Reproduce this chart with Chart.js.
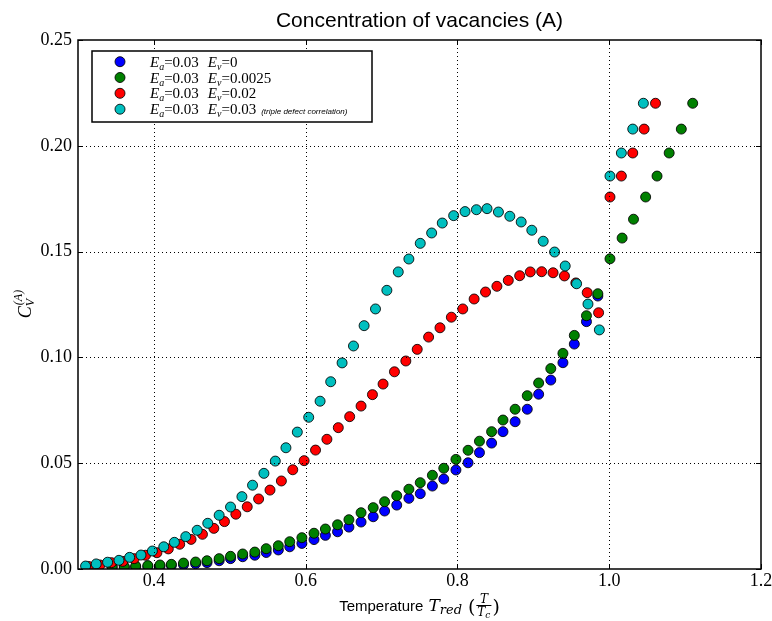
<!DOCTYPE html>
<html>
<head>
<meta charset="utf-8">
<title>Concentration of vacancies (A)</title>
<script src="https://cdn.jsdelivr.net/npm/chart.js@4.4.0/dist/chart.umd.min.js"></script>
<style>
  html, body { margin: 0; padding: 0; background: #fff; }
  #wrap { width: 772px; height: 621px; }
</style>
</head>
<body>
<div id="wrap"><canvas id="c" width="772" height="621"></canvas></div>
<script>
// Reduced temperature T/Tc of each sample point
const tempBlueGreen = [0.345, 0.361, 0.376, 0.392, 0.408, 0.423, 0.439, 0.455, 0.470, 0.486,
  0.501, 0.517, 0.533, 0.548, 0.564, 0.579, 0.595, 0.611, 0.626, 0.642,
  0.657, 0.673, 0.689, 0.704, 0.720, 0.736, 0.751, 0.767, 0.782, 0.798,
  0.814, 0.829, 0.845, 0.860, 0.876, 0.892, 0.907, 0.923, 0.939, 0.954,
  0.970, 0.985, 1.001, 1.017, 1.032, 1.048, 1.063, 1.079, 1.095, 1.110];
const tempRed = [0.314, 0.329, 0.344, 0.359, 0.374, 0.389, 0.404, 0.419, 0.434, 0.449,
  0.464, 0.479, 0.493, 0.508, 0.523, 0.538, 0.553, 0.568, 0.583, 0.598,
  0.613, 0.628, 0.643, 0.658, 0.673, 0.688, 0.702, 0.717, 0.732, 0.747,
  0.762, 0.777, 0.792, 0.807, 0.822, 0.837, 0.852, 0.867, 0.882, 0.896,
  0.911, 0.926, 0.941, 0.956, 0.971, 0.986, 1.001, 1.016, 1.031, 1.046, 1.061];
const tempCyan = [0.310, 0.324, 0.339, 0.354, 0.368, 0.383, 0.398, 0.413, 0.427, 0.442,
  0.457, 0.471, 0.486, 0.501, 0.516, 0.530, 0.545, 0.560, 0.574, 0.589,
  0.604, 0.619, 0.633, 0.648, 0.663, 0.677, 0.692, 0.707, 0.722, 0.736,
  0.751, 0.766, 0.780, 0.795, 0.810, 0.825, 0.839, 0.854, 0.869, 0.884,
  0.898, 0.913, 0.928, 0.942, 0.957, 0.972, 0.987, 1.001, 1.016, 1.031, 1.045];

// Vacancy concentration C_V^(A) for each parameter set
const concBlue = [0.0007, 0.0008, 0.0009, 0.0011, 0.0013, 0.0017, 0.0020, 0.0025, 0.0030, 0.0039,
  0.0049, 0.0058, 0.0065, 0.0078, 0.0090, 0.0105, 0.0121, 0.0139, 0.0159, 0.0176,
  0.0198, 0.0222, 0.0247, 0.0274, 0.0302, 0.0334, 0.0356, 0.0392, 0.0425, 0.0468,
  0.0502, 0.0550, 0.0595, 0.0649, 0.0696, 0.0755, 0.0826, 0.0893, 0.0975, 0.1063,
  0.1169, 0.1290];
const concGreen = [0.0011, 0.0011, 0.0014, 0.0016, 0.0019, 0.0022, 0.0028, 0.0033, 0.0039, 0.0049,
  0.0060, 0.0071, 0.0080, 0.0096, 0.0110, 0.0129, 0.0148, 0.0169, 0.0189, 0.0209,
  0.0233, 0.0266, 0.0290, 0.0318, 0.0346, 0.0377, 0.0408, 0.0443, 0.0476, 0.0518,
  0.0561, 0.0604, 0.0649, 0.0704, 0.0755, 0.0819, 0.0879, 0.0947, 0.1019, 0.1104,
  0.1197, 0.1301, 0.1466, 0.1564, 0.1653, 0.1758, 0.1857, 0.1966, 0.2079, 0.2201];
const concRed = [0.0012, 0.0019, 0.0030, 0.0036, 0.0049, 0.0065, 0.0077, 0.0095, 0.0117, 0.0140,
  0.0164, 0.0192, 0.0224, 0.0259, 0.0294, 0.0331, 0.0373, 0.0416, 0.0469, 0.0512,
  0.0562, 0.0613, 0.0668, 0.0720, 0.0770, 0.0824, 0.0874, 0.0932, 0.0983, 0.1038,
  0.1096, 0.1140, 0.1190, 0.1229, 0.1276, 0.1309, 0.1336, 0.1364, 0.1386, 0.1404,
  0.1405, 0.1400, 0.1385, 0.1352, 0.1306, 0.1211, 0.1758, 0.1857, 0.1966, 0.2079, 0.2201];
const concCyan = [0.0014, 0.0024, 0.0032, 0.0041, 0.0055, 0.0066, 0.0085, 0.0105, 0.0126, 0.0153,
  0.0183, 0.0216, 0.0254, 0.0293, 0.0342, 0.0396, 0.0452, 0.0510, 0.0573, 0.0647,
  0.0717, 0.0793, 0.0885, 0.0974, 0.1054, 0.1150, 0.1229, 0.1317, 0.1404, 0.1465,
  0.1539, 0.1588, 0.1635, 0.1670, 0.1689, 0.1698, 0.1703, 0.1687, 0.1667, 0.1640,
  0.1601, 0.1549, 0.1498, 0.1432, 0.1348, 0.1252, 0.1130, 0.1857, 0.1966, 0.2079, 0.2201];

// Axis ticks
const xTicks = [0.4, 0.6, 0.8, 1.0, 1.2];
const xTickLabels = ['0.4', '0.6', '0.8', '1.0', '1.2'];
const yTicks = [0.00, 0.05, 0.10, 0.15, 0.20, 0.25];
const yTickLabels = ['0.00', '0.05', '0.10', '0.15', '0.20', '0.25'];

// Legend parameters
const energyA = ['0.03', '0.03', '0.03', '0.03'];
const energyV = ['0', '0.0025', '0.02', '0.03'];
const seriesNotes = ['', '', '', '(triple defect correlation)'];
const seriesColors = ['#0000ff', '#008000', '#ff0000', '#00bfbf'];

const SERIF = '"Liberation Serif", "DejaVu Serif", serif';
const MATH = '"DejaVu Serif", "Liberation Serif", serif';
const SANS = '"Liberation Sans", Arial, sans-serif';

function pairs(xs, ys) {
  return ys.map((y, i) => ({ x: xs[i], y: y }));
}

const seriesData = [
  pairs(tempBlueGreen, concBlue),
  pairs(tempBlueGreen, concGreen),
  pairs(tempRed, concRed),
  pairs(tempCyan, concCyan)
];

const datasets = seriesData.map((pts, i) => ({
  label: 'E_a=' + energyA[i] + ' E_v=' + energyV[i],
  data: pts,
  backgroundColor: seriesColors[i],
  borderColor: 'rgba(0,0,0,0.85)',
  borderWidth: 1,
  pointRadius: 5,
  pointHoverRadius: 5,
  showLine: false,
  clip: 0,
  order: 4 - i
}));

// Draw a sequence of text runs (mixed fonts / sub- and superscripts)
function drawRuns(ctx, runs, x, y, measureOnly) {
  let cx = x;
  for (const r of runs) {
    cx += r.pre || 0;
    ctx.font = r.font;
    if (!measureOnly) ctx.fillText(r.t, cx, y + (r.dy || 0));
    cx += ctx.measureText(r.t).width;
  }
  return cx - x;
}

const decorPlugin = {
  id: 'decor',
  afterDatasetsDraw(chart) {
    const ctx = chart.ctx;
    const a = chart.chartArea;
    const xs = chart.scales.x, ys = chart.scales.y;
    ctx.save();
    // dotted grid over the markers
    ctx.strokeStyle = '#000';
    ctx.lineWidth = 1;
    ctx.setLineDash([1, 3]);
    xTicks.forEach(v => {
      const px = Math.round(xs.getPixelForValue(v)) + 0.5;
      if (px <= a.left + 1 || px >= a.right - 1) return;
      ctx.beginPath(); ctx.moveTo(px, a.top); ctx.lineTo(px, a.bottom); ctx.stroke();
    });
    yTicks.forEach(v => {
      const py = Math.round(ys.getPixelForValue(v)) + 0.5;
      if (py <= a.top + 1 || py >= a.bottom - 1) return;
      ctx.beginPath(); ctx.moveTo(a.left, py); ctx.lineTo(a.right, py); ctx.stroke();
    });
    ctx.setLineDash([]);
    // inward tick marks on all four sides
    const tl = 5;
    xTicks.forEach(v => {
      const px = Math.round(xs.getPixelForValue(v)) + 0.5;
      ctx.beginPath();
      ctx.moveTo(px, a.bottom); ctx.lineTo(px, a.bottom - tl);
      ctx.moveTo(px, a.top); ctx.lineTo(px, a.top + tl);
      ctx.stroke();
    });
    yTicks.forEach(v => {
      const py = Math.round(ys.getPixelForValue(v)) + 0.5;
      ctx.beginPath();
      ctx.moveTo(a.left, py); ctx.lineTo(a.left + tl, py);
      ctx.moveTo(a.right, py); ctx.lineTo(a.right - tl, py);
      ctx.stroke();
    });
    // axes frame
    ctx.lineWidth = 1.5;
    ctx.strokeRect(a.left, a.top, a.right - a.left, a.bottom - a.top);
    ctx.restore();
  },
  afterDraw(chart) {
    const ctx = chart.ctx;
    const a = chart.chartArea;
    const cxm = (a.left + a.right) / 2;
    ctx.save();
    ctx.fillStyle = '#000';
    ctx.textBaseline = 'alphabetic';
    ctx.textAlign = 'left';

    // title
    ctx.font = '21px ' + SANS;
    ctx.textAlign = 'center';
    ctx.fillText('Concentration of vacancies (A)', cxm, 27);
    ctx.textAlign = 'left';

    // x-axis title: Temperature T_red (T / T_c)
    const base = 611;
    const head = [
      { t: 'Temperature', font: '15px ' + SANS },
      { t: 'T', font: 'italic 17px ' + MATH, pre: 5 },
      { t: 'red', font: 'italic 13px ' + MATH, dy: 3 }
    ];
    const parenFont = '19px ' + MATH;
    ctx.font = parenFont;
    const wParen = ctx.measureText('(').width;
    ctx.font = 'italic 12px ' + MATH;
    const wT = ctx.measureText('T').width;
    ctx.font = 'italic 9px ' + MATH;
    const wc = ctx.measureText('c').width;
    const wFrac = wT + wc + 4;
    const wHead = drawRuns(ctx, head, 0, 0, true);
    const gap = 6;
    const total = wHead + gap + wParen * 2 + wFrac;
    const x0 = cxm - total / 2;
    drawRuns(ctx, head, x0, base, false);
    let px = x0 + wHead + gap;
    ctx.font = parenFont;
    ctx.fillText('(', px, base + 2);
    px += wParen;
    const bar = base - 6;
    ctx.fillRect(px + 1, bar, wFrac - 2, 1);
    ctx.font = 'italic 12px ' + MATH;
    ctx.fillText('T', px + (wFrac - wT) / 2, bar - 2);
    const dx = px + (wFrac - wT - wc) / 2;
    ctx.fillText('T', dx, bar + 11);
    ctx.font = 'italic 9px ' + MATH;
    ctx.fillText('c', dx + wT, bar + 13);
    px += wFrac;
    ctx.font = parenFont;
    ctx.fillText(')', px, base + 2);

    // y-axis title: C_V^(A), rotated
    ctx.save();
    ctx.translate(31, (a.top + a.bottom) / 2);
    ctx.rotate(-Math.PI / 2);
    ctx.font = 'italic 18px ' + SERIF;
    const wC = ctx.measureText('C').width;
    ctx.font = 'italic 12px ' + SERIF;
    const wV = ctx.measureText('V').width;
    const wA = ctx.measureText('(A)').width;
    const wy = wC + Math.max(wV, wA);
    const sx = -wy / 2;
    ctx.font = 'italic 18px ' + SERIF;
    ctx.fillText('C', sx, 0);
    ctx.font = 'italic 12px ' + SERIF;
    ctx.fillText('V', sx + wC, 3);
    ctx.fillText('(A)', sx + wC + 1, -9);
    ctx.restore();

    // legend
    const lx = 92, ly = 51, lw = 280, lh = 71;
    ctx.fillStyle = '#fff';
    ctx.fillRect(lx, ly, lw, lh);
    ctx.strokeStyle = '#000';
    ctx.lineWidth = 1.5;
    ctx.strokeRect(lx, ly, lw, lh);
    const rows = [61.7, 77.5, 93.3, 109.2];
    chart.data.datasets.forEach((ds, i) => {
      const ry = rows[i];
      ctx.beginPath();
      ctx.arc(120, ry, 5, 0, Math.PI * 2);
      ctx.fillStyle = ds.backgroundColor;
      ctx.fill();
      ctx.lineWidth = 1;
      ctx.strokeStyle = ds.borderColor;
      ctx.stroke();
      ctx.fillStyle = '#000';
      const runs = [
        { t: 'E', font: 'italic 15px ' + SERIF },
        { t: 'a', font: 'italic 10px ' + SERIF, dy: 3 },
        { t: '=' + energyA[i], font: '15px ' + SERIF },
        { t: 'E', font: 'italic 15px ' + SERIF, pre: 9 },
        { t: 'v', font: 'italic 10px ' + SERIF, dy: 3 },
        { t: '=' + energyV[i], font: '15px ' + SERIF }
      ];
      if (seriesNotes[i]) runs.push({ t: seriesNotes[i], font: 'italic 8px ' + SANS, pre: 5 });
      drawRuns(ctx, runs, 150, ry + 5, false);
    });
    ctx.restore();
  }
};

new Chart(document.getElementById('c'), {
  type: 'scatter',
  data: { datasets: datasets },
  options: {
    responsive: false,
    animation: false,
    devicePixelRatio: 1,
    layout: { padding: { top: 40, right: 11, bottom: 0, left: 0 } },
    plugins: {
      legend: { display: false },
      title: { display: false },
      tooltip: { enabled: false }
    },
    scales: {
      x: {
        type: 'linear',
        position: 'bottom',
        min: 0.3,
        max: 1.2,
        grid: { display: false, drawTicks: false },
        border: { display: false },
        afterBuildTicks: s => { s.ticks = xTicks.map(v => ({ value: v })); },
        afterFit: s => {
          s.height = 52;
          s.paddingLeft = 0; s.paddingRight = 0; s.paddingTop = 0; s.paddingBottom = 0;
        },
        ticks: {
          autoSkip: false,
          maxRotation: 0,
          padding: 1,
          color: '#000',
          font: { family: SERIF, size: 18 },
          callback: (v, i) => xTickLabels[i]
        }
      },
      y: {
        type: 'linear',
        min: 0,
        max: 0.25,
        grid: { display: false, drawTicks: false },
        border: { display: false },
        afterBuildTicks: s => { s.ticks = yTicks.map(v => ({ value: v })); },
        afterFit: s => {
          s.width = 78;
          s.paddingLeft = 0; s.paddingRight = 0; s.paddingTop = 0; s.paddingBottom = 0;
        },
        ticks: {
          autoSkip: false,
          padding: 6,
          color: '#000',
          font: { family: SERIF, size: 18 },
          callback: (v, i) => yTickLabels[i]
        }
      }
    }
  },
  plugins: [decorPlugin]
});
</script>
</body>
</html>
